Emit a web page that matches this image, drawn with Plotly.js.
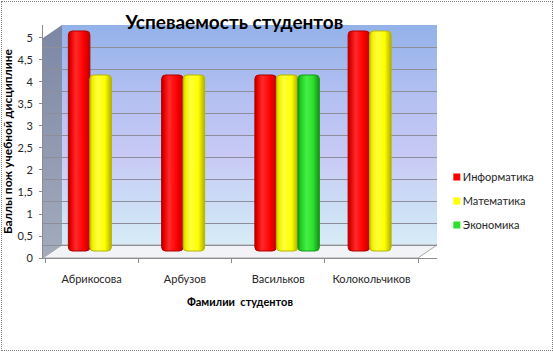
<!DOCTYPE html>
<html>
<head>
<meta charset="utf-8">
<script src="https://cdn.plot.ly/plotly-3.0.1.min.js"></script>
<style>
  html, body { margin: 0; padding: 0; background: #ffffff; }
  #wrap { position: relative; width: 554px; height: 353px; }
  #chart { position: absolute; left: 0; top: 0; width: 554px; height: 353px; }
  #frame { position: absolute; left: 1px; top: 1px; width: 550px; height: 348px;
           border: 1px dotted #7f7f7f; pointer-events: none; }
</style>
</head>
<body>
<div id="wrap"><div id="chart"></div><div id="frame"></div></div>
<script>
// ---- data ----
const categories = ['Абрикосова', 'Арбузов', 'Васильков', 'Колокольчиков'];
const informatika = [5, 4, 4, 5];
const matematika  = [4, 4, 4, 5];
const ekonomika   = [null, null, 4, null];
const seriesNames = ['Информатика', 'Математика', 'Экономика'];

const chartTitle = 'Успеваемость студентов';
const xTitle = 'Фамилии  студентов';
const yTitle = 'Баллы пож учебной дисциплине';

// ---- 3D box background (walls and floor) ----
const boxSvg =
  '<svg xmlns="http://www.w3.org/2000/svg" width="394" height="233" viewBox="0 0 394 233" preserveAspectRatio="none">' +
  '<defs>' +
  '<linearGradient id="g" x1="0" y1="0" x2="0" y2="1">' +
  '<stop offset="0" stop-color="#93b2ea"/>' +
  '<stop offset="0.35" stop-color="#b6c1f2"/>' +
  '<stop offset="0.6" stop-color="#c8caf5"/>' +
  '<stop offset="0.85" stop-color="#cde0f6"/>' +
  '<stop offset="1" stop-color="#d8ecf6"/>' +
  '</linearGradient>' +
  '<linearGradient id="s" x1="0" y1="0" x2="0" y2="1">' +
  '<stop offset="0" stop-color="#7c87a4"/>' +
  '<stop offset="1" stop-color="#a3abbd"/>' +
  '</linearGradient>' +
  '</defs>' +
  '<rect x="19" y="0" width="375" height="220" fill="url(#g)"/>' +
  '<polygon points="0,13 19,0 19,220 0,233" fill="url(#s)"/>' +
  '<polygon points="0,233 19,220 394,220 375,233" fill="#f2f3f6" stroke="#a6a6a6" stroke-width="1"/>' +
  '</svg>';
const boxUri = 'data:image/svg+xml;charset=utf-8,' + encodeURIComponent(boxSvg);

const slot = 0.2306;   // bar width in category units
const shift = 0.0965;  // 3D depth shift of the bar group
const depthBase = 0.159; // 3D depth lift of the bar bottoms (y units)
const colors = ['#ff0000', '#ffff00', '#2de02d'];
const edges  = ['#b00000', '#b5b500', '#169c16'];
// cylinder shading stops: [offset, color]
const shades = [
  [[0, '#b00000'], [0.12, '#e80000'], [0.35, '#ff2a2a'], [0.7, '#ff0000'], [1, '#c00000']],
  [[0, '#c8c800'], [0.12, '#f0f000'], [0.35, '#ffff3a'], [0.7, '#ffff00'], [1, '#b0b000']],
  [[0, '#149014'], [0.12, '#22c822'], [0.4, '#44f044'], [0.7, '#2ee02e'], [1, '#149014']]
];
const seriesValues = [informatika, matematika, ekonomika];

const traces = seriesValues.map((vals, i) => ({
  type: 'bar',
  name: seriesNames[i],
  x: categories,
  y: vals,
  base: depthBase,
  width: slot,
  offset: -1.5 * slot + shift + i * slot,
  marker: { color: colors[i], line: { color: edges[i], width: 1 }, cornerradius: 4 },
  legendgroup: 'g' + i,
  hoverinfo: 'x+y+name'
}));

const fontFam = 'Lato, "Open Sans", "Noto Sans", sans-serif';

const layout = {
  width: 554, height: 353,
  margin: { l: 43, r: 117, t: 25, b: 95 },
  paper_bgcolor: '#ffffff',
  plot_bgcolor: 'rgba(0,0,0,0)',
  separators: ', ',
  showlegend: true,
  barmode: 'overlay',
  font: { family: fontFam, color: '#262626', size: 11 },
  title: {
    text: chartTitle,
    font: { family: fontFam, size: 19, color: '#000000', weight: 'bold' },
    x: 0.423, xanchor: 'center', xref: 'container',
    y: 0.938, yanchor: 'middle', yref: 'container'
  },
  xaxis: {
    type: 'category',
    range: [-0.5214, 3.7038],
    tickson: 'boundaries',
    ticks: 'outside', ticklen: 4, tickcolor: '#8c8c8c',
    showline: true, linecolor: '#8c8c8c', linewidth: 1,
    showgrid: false, zeroline: false,
    ticklabelstandoff: 11,
    tickfont: { size: 11, color: '#262626' },
    title: { text: xTitle, standoff: 14, font: { size: 11, color: '#000000', weight: 'bold' } }
  },
  yaxis: {
    range: [0, 5.295], dtick: 0.5, tick0: 0,
    showgrid: false, zeroline: false,
    showline: true, linecolor: '#8c8c8c', linewidth: 1,
    ticks: 'outside', ticklen: 3, tickcolor: '#8c8c8c',
    ticklabelstandoff: 4,
    tickfont: { size: 11, color: '#262626' },
    minor: { dtick: 0.5, tick0: 0.295, showgrid: true, gridcolor: '#8e8e9a', gridwidth: 1, ticks: '' },
    title: { text: yTitle, standoff: 3, font: { size: 12, color: '#000000', weight: 'bold' } }
  },
  legend: {
    x: 0.964, xanchor: 'left', y: 0.41, yanchor: 'top',
    xref: 'paper', yref: 'paper',
    bgcolor: 'rgba(0,0,0,0)',
    font: { size: 11, color: '#262626' },
    traceorder: 'grouped', tracegroupgap: 5
  },
  images: [{
    source: boxUri, xref: 'paper', yref: 'paper',
    x: 0, y: 1, sizex: 1, sizey: 1, xanchor: 'left', yanchor: 'top',
    sizing: 'stretch', layer: 'below'
  }]
};

Plotly.newPlot('chart', traces, layout, { displayModeBar: false, staticPlot: true }).then(gd => {
  // give the bars a cylinder-like horizontal shading
  const NS = 'http://www.w3.org/2000/svg';
  const svg = gd.querySelector('svg.main-svg');
  let defs = svg.querySelector('defs');
  if (!defs) { defs = document.createElementNS(NS, 'defs'); svg.insertBefore(defs, svg.firstChild); }
  shades.forEach((stops, i) => {
    const lg = document.createElementNS(NS, 'linearGradient');
    lg.setAttribute('id', 'cyl' + i);
    lg.setAttribute('x1', '0'); lg.setAttribute('y1', '0');
    lg.setAttribute('x2', '1'); lg.setAttribute('y2', '0');
    stops.forEach(([o, c]) => {
      const s = document.createElementNS(NS, 'stop');
      s.setAttribute('offset', o); s.setAttribute('stop-color', c);
      lg.appendChild(s);
    });
    defs.appendChild(lg);
  });
  gd.querySelectorAll('.barlayer .trace').forEach((tr, i) => {
    tr.querySelectorAll('path').forEach(p => { p.style.fill = 'url(#cyl' + i + ')'; });
  });
  // smaller square legend keys, closer to the text (as in the reference)
  gd.querySelectorAll('.legend .legendpoints path').forEach(p => {
    p.setAttribute('d', 'M37.5,3.5H30.5V-3.5H37.5Z');
    p.removeAttribute('transform');
    p.style.strokeWidth = '0px';
  });
});
</script>
</body>
</html>
